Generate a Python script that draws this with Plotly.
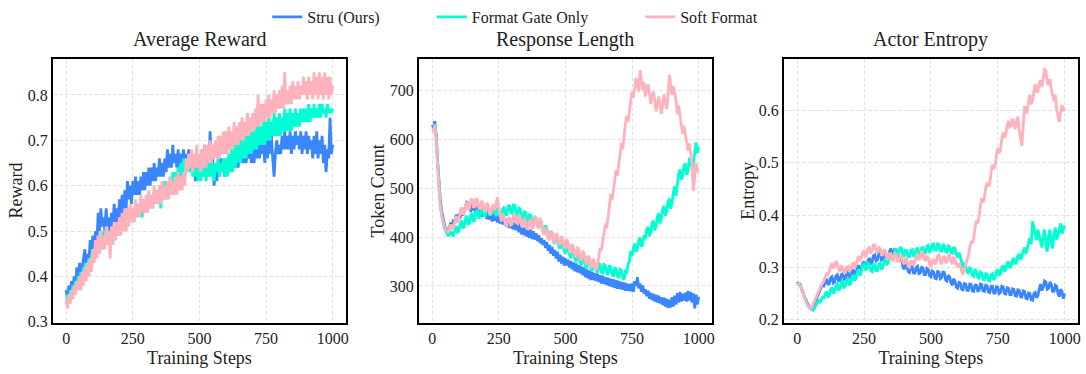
import plotly.graph_objects as go

steps = list(range(0, 1001, 5))

series_names = ["Stru (Ours)", "Format Gate Only", "Soft Format"]
series_colors = ["#3A86FF", "#00FFD2", "#FFB1BC"]
panel_titles = ["Average Reward", "Response Length", "Actor Entropy"]
y_titles = ["Reward", "Token Count", "Entropy"]
x_title = "Training Steps"
x_ticks = [0, 250, 500, 750, 1000]
y_ticks = [[0.3, 0.4, 0.5, 0.6, 0.7, 0.8],
           [300, 400, 500, 600, 700],
           [0.2, 0.3, 0.4, 0.5, 0.6]]
y_tick_text = [["0.3", "0.4", "0.5", "0.6", "0.7", "0.8"],
               ["300", "400", "500", "600", "700"],
               ["0.2", "0.3", "0.4", "0.5", "0.6"]]

# ---------------- Average Reward (every 5 steps) ----------------
stru_reward = [
    0.37, 0.35, 0.38, 0.36, 0.39, 0.37, 0.40, 0.38, 0.42, 0.39, 0.43, 0.41, 0.42, 0.44, 0.46, 0.42, 0.45, 0.43, 0.48, 0.45,
    0.49, 0.46, 0.50, 0.47, 0.54, 0.50, 0.55, 0.51, 0.53, 0.50, 0.55, 0.51, 0.53, 0.49, 0.54, 0.51, 0.56, 0.52, 0.55, 0.52,
    0.57, 0.53, 0.58, 0.54, 0.59, 0.55, 0.61, 0.57, 0.60, 0.56, 0.61, 0.58, 0.62, 0.58, 0.61, 0.58, 0.62, 0.59, 0.63, 0.59,
    0.63, 0.60, 0.64, 0.60, 0.64, 0.61, 0.65, 0.61, 0.64, 0.62, 0.66, 0.62, 0.65, 0.62, 0.66, 0.63, 0.68, 0.64, 0.67, 0.64,
    0.69, 0.65, 0.67, 0.64, 0.68, 0.64, 0.67, 0.65, 0.68, 0.64, 0.67, 0.65, 0.68, 0.65, 0.67, 0.63, 0.66, 0.61, 0.65, 0.62,
    0.66, 0.62, 0.68, 0.63, 0.69, 0.62, 0.66, 0.63, 0.72, 0.64, 0.66, 0.60, 0.64, 0.61, 0.65, 0.62, 0.66, 0.63, 0.65, 0.62,
    0.65, 0.63, 0.66, 0.63, 0.66, 0.64, 0.67, 0.64, 0.68, 0.64, 0.67, 0.65, 0.68, 0.65, 0.69, 0.65, 0.68, 0.66, 0.69, 0.65,
    0.68, 0.65, 0.69, 0.66, 0.70, 0.66, 0.69, 0.67, 0.70, 0.65, 0.71, 0.66, 0.70, 0.67, 0.71, 0.66, 0.62, 0.67, 0.70, 0.67,
    0.69, 0.67, 0.71, 0.68, 0.72, 0.68, 0.71, 0.68, 0.72, 0.67, 0.71, 0.68, 0.72, 0.69, 0.71, 0.68, 0.72, 0.67, 0.71, 0.68,
    0.72, 0.67, 0.71, 0.68, 0.70, 0.66, 0.71, 0.67, 0.72, 0.66, 0.70, 0.67, 0.71, 0.65, 0.69, 0.63, 0.68, 0.66, 0.75, 0.67,
    0.69]
gate_reward = [
    0.34, 0.36, 0.35, 0.37, 0.36, 0.38, 0.37, 0.39, 0.38, 0.40, 0.39, 0.41, 0.40, 0.42, 0.41, 0.43, 0.42, 0.44, 0.43, 0.45,
    0.46, 0.44, 0.47, 0.45, 0.49, 0.46, 0.48, 0.46, 0.50, 0.47, 0.49, 0.47, 0.50, 0.48, 0.51, 0.47, 0.51, 0.48, 0.52, 0.49,
    0.52, 0.50, 0.53, 0.50, 0.54, 0.51, 0.55, 0.52, 0.54, 0.52, 0.55, 0.52, 0.56, 0.53, 0.56, 0.54, 0.57, 0.53, 0.57, 0.54,
    0.57, 0.55, 0.58, 0.55, 0.58, 0.55, 0.59, 0.56, 0.59, 0.56, 0.60, 0.55, 0.60, 0.57, 0.61, 0.57, 0.61, 0.58, 0.62, 0.58,
    0.63, 0.59, 0.63, 0.60, 0.64, 0.60, 0.65, 0.61, 0.66, 0.62, 0.66, 0.63, 0.67, 0.63, 0.66, 0.62, 0.65, 0.62, 0.66, 0.61,
    0.64, 0.61, 0.65, 0.62, 0.66, 0.61, 0.65, 0.62, 0.66, 0.62, 0.65, 0.61, 0.65, 0.63, 0.66, 0.62, 0.65, 0.63, 0.66, 0.62,
    0.66, 0.62, 0.67, 0.63, 0.68, 0.63, 0.69, 0.64, 0.70, 0.65, 0.70, 0.65, 0.71, 0.66, 0.72, 0.66, 0.71, 0.67, 0.72, 0.67,
    0.72, 0.68, 0.73, 0.68, 0.74, 0.69, 0.73, 0.69, 0.75, 0.69, 0.74, 0.70, 0.75, 0.70, 0.74, 0.71, 0.76, 0.71, 0.75, 0.71,
    0.76, 0.71, 0.75, 0.72, 0.77, 0.72, 0.76, 0.72, 0.77, 0.72, 0.76, 0.73, 0.77, 0.73, 0.76, 0.73, 0.77, 0.74, 0.77, 0.74,
    0.77, 0.74, 0.78, 0.74, 0.77, 0.75, 0.78, 0.75, 0.77, 0.75, 0.78, 0.75, 0.78, 0.76, 0.77, 0.75, 0.78, 0.76, 0.77, 0.76,
    0.77]
soft_reward = [
    0.35, 0.33, 0.36, 0.34, 0.37, 0.35, 0.38, 0.36, 0.39, 0.37, 0.40, 0.37, 0.41, 0.38, 0.42, 0.39, 0.43, 0.40, 0.44, 0.41,
    0.46, 0.43, 0.48, 0.44, 0.49, 0.45, 0.50, 0.46, 0.49, 0.46, 0.51, 0.47, 0.50, 0.44, 0.51, 0.47, 0.52, 0.48, 0.52, 0.49,
    0.53, 0.49, 0.54, 0.50, 0.55, 0.50, 0.55, 0.51, 0.56, 0.52, 0.55, 0.52, 0.57, 0.53, 0.56, 0.53, 0.58, 0.54, 0.57, 0.54,
    0.58, 0.54, 0.59, 0.55, 0.58, 0.55, 0.60, 0.56, 0.59, 0.56, 0.60, 0.56, 0.61, 0.57, 0.60, 0.57, 0.61, 0.57, 0.62, 0.58,
    0.61, 0.58, 0.62, 0.58, 0.63, 0.59, 0.62, 0.59, 0.63, 0.60, 0.66, 0.63, 0.67, 0.64, 0.68, 0.63, 0.67, 0.64, 0.69, 0.64,
    0.67, 0.63, 0.68, 0.64, 0.69, 0.64, 0.69, 0.65, 0.70, 0.65, 0.69, 0.66, 0.70, 0.66, 0.71, 0.66, 0.71, 0.67, 0.72, 0.67,
    0.72, 0.67, 0.73, 0.68, 0.72, 0.68, 0.74, 0.69, 0.73, 0.69, 0.74, 0.70, 0.75, 0.70, 0.74, 0.71, 0.76, 0.71, 0.75, 0.72,
    0.76, 0.72, 0.77, 0.73, 0.80, 0.73, 0.78, 0.74, 0.78, 0.74, 0.79, 0.75, 0.80, 0.75, 0.79, 0.76, 0.81, 0.76, 0.80, 0.77,
    0.81, 0.77, 0.82, 0.77, 0.85, 0.78, 0.81, 0.78, 0.82, 0.78, 0.83, 0.79, 0.82, 0.79, 0.83, 0.79, 0.82, 0.80, 0.84, 0.80,
    0.83, 0.79, 0.84, 0.80, 0.83, 0.79, 0.85, 0.80, 0.84, 0.79, 0.85, 0.80, 0.84, 0.79, 0.85, 0.80, 0.84, 0.79, 0.84, 0.80,
    0.82]

# ---------------- Response Length (every 5 steps) ----------------
stru_len = [
    630, 625, 638, 610, 560, 515, 480, 455, 440, 428, 420, 416, 413, 420, 430, 422, 436, 428, 446, 436,
    448, 438, 458, 444, 452, 462, 474, 458, 466, 452, 470, 455, 460, 446, 464, 448, 458, 442, 455, 444,
    452, 437, 451, 436, 448, 432, 450, 434, 444, 430, 446, 428, 441, 426, 440, 424, 437, 420, 436, 418,
    431, 416, 430, 414, 427, 410, 428, 406, 421, 404, 420, 401, 417, 398, 416, 396, 412, 395, 408, 392,
    404, 388, 398, 384, 394, 378, 390, 372, 384, 366, 380, 362, 374, 356, 370, 350, 364, 346, 360, 342,
    357, 342, 354, 338, 351, 334, 348, 330, 346, 328, 343, 326, 340, 322, 338, 318, 334, 315, 332, 312,
    329, 312, 326, 310, 325, 308, 322, 305, 321, 304, 318, 302, 317, 300, 315, 298, 314, 296, 312, 294,
    310, 294, 308, 292, 307, 290, 305, 290, 304, 289, 305, 288, 310, 300, 318, 295, 305, 288, 301, 284,
    293, 279, 290, 274, 286, 271, 284, 268, 282, 266, 280, 264, 277, 261, 276, 258, 274, 255, 272, 256,
    277, 258, 280, 262, 285, 266, 288, 268, 284, 270, 286, 268, 290, 270, 288, 266, 285, 254, 282, 262,
    278]
gate_len = [
    622, 620, 632, 605, 555, 510, 470, 448, 430, 420, 415, 410, 402, 408, 412, 404, 403, 414, 423, 410,
    412, 426, 434, 418, 421, 438, 444, 426, 429, 446, 450, 432, 435, 452, 456, 438, 441, 458, 461, 444,
    444, 460, 463, 446, 446, 462, 464, 448, 443, 458, 459, 442, 442, 458, 462, 446, 446, 463, 466, 450,
    449, 466, 465, 448, 443, 460, 458, 442, 436, 452, 451, 434, 429, 446, 445, 428, 423, 441, 439, 422,
    419, 434, 431, 414, 407, 424, 419, 402, 396, 412, 409, 392, 386, 402, 399, 382, 376, 392, 389, 372,
    366, 382, 379, 364, 357, 374, 371, 356, 349, 366, 364, 348, 343, 360, 357, 342, 336, 354, 351, 336,
    331, 350, 347, 332, 327, 346, 344, 328, 325, 344, 342, 326, 323, 342, 339, 324, 319, 338, 335, 320,
    316, 334, 332, 316, 313, 330, 328, 345, 350, 372, 361, 378, 387, 370, 376, 394, 399, 380, 386, 404,
    396, 416, 421, 402, 409, 428, 434, 414, 423, 442, 449, 428, 439, 458, 464, 444, 453, 472, 479, 458,
    471, 492, 504, 485, 506, 530, 539, 518, 526, 548, 549, 528, 536, 560, 559, 540, 551, 578, 594, 572,
    585]
soft_len = [
    620, 618, 630, 600, 550, 505, 465, 445, 430, 422, 418, 414, 409, 418, 426, 416, 420, 432, 443, 430,
    437, 452, 461, 446, 450, 466, 472, 456, 459, 476, 479, 462, 462, 480, 477, 460, 457, 474, 471, 455,
    452, 470, 467, 450, 447, 462, 467, 456, 474, 482, 459, 446, 432, 448, 441, 426, 422, 438, 441, 425,
    427, 444, 447, 430, 428, 446, 441, 424, 420, 438, 434, 418, 417, 434, 435, 418, 420, 442, 439, 422,
    420, 440, 429, 412, 404, 420, 414, 398, 394, 412, 409, 392, 390, 408, 404, 388, 384, 402, 397, 380,
    377, 396, 389, 372, 367, 386, 379, 362, 360, 380, 374, 356, 354, 372, 367, 350, 344, 362, 357, 340,
    337, 356, 347, 332, 342, 360, 378, 372, 388, 410, 428, 418, 438, 462, 488, 476, 498, 520, 538, 526,
    553, 578, 593, 580, 608, 632, 648, 636, 658, 684, 698, 686, 707, 726, 713, 698, 742, 722, 702, 718,
    688, 706, 713, 694, 673, 690, 698, 680, 658, 676, 688, 668, 653, 672, 693, 676, 663, 690, 733, 712,
    692, 710, 698, 680, 652, 670, 648, 630, 612, 628, 608, 590, 577, 592, 568, 550, 495, 520, 552, 535,
    533]

# ---------------- Actor Entropy (every 5 steps) ----------------
stru_ent = [
    0.272, 0.268, 0.268, 0.262, 0.255, 0.246, 0.240, 0.233, 0.228, 0.224, 0.222, 0.220, 0.226, 0.230, 0.236, 0.244, 0.250, 0.256, 0.260, 0.268,
    0.265, 0.274, 0.278, 0.268, 0.268, 0.280, 0.282, 0.270, 0.272, 0.284, 0.286, 0.274, 0.275, 0.286, 0.288, 0.277, 0.278, 0.289, 0.291, 0.280,
    0.281, 0.292, 0.296, 0.284, 0.288, 0.300, 0.304, 0.292, 0.296, 0.308, 0.311, 0.299, 0.302, 0.314, 0.318, 0.306, 0.310, 0.322, 0.324, 0.312,
    0.314, 0.326, 0.328, 0.314, 0.316, 0.324, 0.326, 0.314, 0.319, 0.330, 0.336, 0.328, 0.326, 0.336, 0.331, 0.320, 0.312, 0.322, 0.316, 0.302,
    0.296, 0.306, 0.304, 0.292, 0.290, 0.302, 0.301, 0.289, 0.289, 0.300, 0.302, 0.288, 0.289, 0.300, 0.299, 0.286, 0.286, 0.298, 0.296, 0.284,
    0.282, 0.293, 0.291, 0.279, 0.278, 0.292, 0.291, 0.278, 0.280, 0.291, 0.290, 0.276, 0.274, 0.285, 0.282, 0.270, 0.266, 0.278, 0.274, 0.262,
    0.260, 0.271, 0.270, 0.258, 0.257, 0.269, 0.268, 0.256, 0.256, 0.268, 0.267, 0.255, 0.254, 0.266, 0.266, 0.255, 0.256, 0.268, 0.267, 0.255,
    0.254, 0.266, 0.265, 0.253, 0.252, 0.264, 0.264, 0.251, 0.251, 0.263, 0.262, 0.250, 0.252, 0.264, 0.263, 0.250, 0.249, 0.261, 0.260, 0.248,
    0.248, 0.259, 0.258, 0.246, 0.245, 0.257, 0.256, 0.244, 0.243, 0.255, 0.254, 0.241, 0.240, 0.251, 0.250, 0.238, 0.237, 0.250, 0.252, 0.242,
    0.246, 0.258, 0.268, 0.256, 0.262, 0.274, 0.272, 0.258, 0.260, 0.272, 0.268, 0.254, 0.254, 0.266, 0.264, 0.250, 0.244, 0.258, 0.254, 0.240,
    0.250]
gate_ent = [
    0.268, 0.267, 0.266, 0.260, 0.252, 0.245, 0.238, 0.232, 0.226, 0.223, 0.221, 0.219, 0.218, 0.222, 0.226, 0.230, 0.236, 0.232, 0.238, 0.244,
    0.240, 0.250, 0.254, 0.244, 0.246, 0.258, 0.262, 0.250, 0.254, 0.266, 0.268, 0.256, 0.259, 0.271, 0.274, 0.262, 0.264, 0.276, 0.278, 0.266,
    0.269, 0.281, 0.286, 0.274, 0.279, 0.292, 0.296, 0.284, 0.292, 0.304, 0.308, 0.296, 0.297, 0.308, 0.306, 0.294, 0.292, 0.304, 0.306, 0.294,
    0.294, 0.306, 0.308, 0.296, 0.299, 0.311, 0.316, 0.304, 0.309, 0.321, 0.326, 0.314, 0.319, 0.331, 0.336, 0.324, 0.327, 0.339, 0.336, 0.324,
    0.321, 0.333, 0.332, 0.320, 0.321, 0.333, 0.334, 0.322, 0.323, 0.335, 0.336, 0.324, 0.325, 0.337, 0.338, 0.326, 0.328, 0.340, 0.342, 0.330,
    0.332, 0.344, 0.345, 0.333, 0.333, 0.345, 0.344, 0.332, 0.331, 0.343, 0.342, 0.330, 0.329, 0.341, 0.340, 0.328, 0.327, 0.339, 0.336, 0.324,
    0.319, 0.328, 0.321, 0.309, 0.299, 0.309, 0.304, 0.292, 0.288, 0.299, 0.297, 0.285, 0.283, 0.295, 0.293, 0.281, 0.279, 0.291, 0.289, 0.277,
    0.276, 0.288, 0.287, 0.275, 0.274, 0.286, 0.288, 0.276, 0.280, 0.292, 0.296, 0.284, 0.288, 0.300, 0.304, 0.292, 0.296, 0.308, 0.311, 0.299,
    0.302, 0.314, 0.318, 0.306, 0.310, 0.322, 0.326, 0.314, 0.320, 0.332, 0.338, 0.326, 0.334, 0.348, 0.356, 0.344, 0.388, 0.376, 0.364, 0.352,
    0.372, 0.360, 0.350, 0.338, 0.360, 0.372, 0.342, 0.330, 0.360, 0.372, 0.347, 0.336, 0.364, 0.376, 0.353, 0.360, 0.372, 0.384, 0.364, 0.372,
    0.380]
soft_ent = [
    0.270, 0.268, 0.266, 0.260, 0.252, 0.244, 0.236, 0.231, 0.226, 0.222, 0.220, 0.224, 0.230, 0.236, 0.244, 0.250, 0.256, 0.262, 0.266, 0.270,
    0.274, 0.282, 0.288, 0.286, 0.292, 0.302, 0.308, 0.298, 0.302, 0.312, 0.306, 0.296, 0.292, 0.302, 0.300, 0.290, 0.290, 0.300, 0.302, 0.292,
    0.296, 0.306, 0.308, 0.298, 0.306, 0.318, 0.322, 0.312, 0.318, 0.328, 0.332, 0.320, 0.324, 0.336, 0.338, 0.326, 0.332, 0.343, 0.343, 0.332,
    0.328, 0.338, 0.336, 0.324, 0.324, 0.334, 0.330, 0.318, 0.314, 0.326, 0.326, 0.314, 0.314, 0.326, 0.324, 0.312, 0.312, 0.324, 0.322, 0.310,
    0.306, 0.318, 0.314, 0.302, 0.300, 0.312, 0.312, 0.304, 0.310, 0.322, 0.324, 0.314, 0.318, 0.330, 0.328, 0.316, 0.312, 0.322, 0.318, 0.306,
    0.300, 0.312, 0.316, 0.306, 0.310, 0.322, 0.324, 0.312, 0.306, 0.318, 0.322, 0.310, 0.310, 0.322, 0.324, 0.312, 0.306, 0.318, 0.316, 0.304,
    0.302, 0.308, 0.300, 0.290, 0.286, 0.296, 0.308, 0.314, 0.322, 0.340, 0.350, 0.346, 0.356, 0.376, 0.390, 0.384, 0.396, 0.418, 0.432, 0.424,
    0.432, 0.452, 0.462, 0.454, 0.460, 0.482, 0.496, 0.488, 0.494, 0.514, 0.528, 0.518, 0.524, 0.546, 0.558, 0.548, 0.554, 0.572, 0.580, 0.568,
    0.570, 0.584, 0.576, 0.564, 0.580, 0.588, 0.562, 0.548, 0.532, 0.570, 0.608, 0.596, 0.596, 0.618, 0.630, 0.614, 0.616, 0.636, 0.650, 0.636,
    0.636, 0.652, 0.658, 0.644, 0.665, 0.678, 0.676, 0.654, 0.648, 0.660, 0.640, 0.628, 0.618, 0.630, 0.602, 0.590, 0.578, 0.596, 0.610, 0.598,
    0.605]

panels = [
    [stru_reward, gate_reward, soft_reward],
    [stru_len, gate_len, soft_len],
    [stru_ent, gate_ent, soft_ent],
]

W, H = 1086, 374
FONT = "Liberation Serif, Times New Roman, serif"
TXT = "#222222"

boxes_px = [(53, 347), (420, 714), (786, 1081)]
top_px, bottom_px = 56, 329
y_ranges = [[0.2985, 0.879], [225, 765], [0.1945, 0.698]]
ytitle_x_px = [15.7, 378.7, 750]

fig = go.Figure()
legend_keys = ["legend", "legend2", "legend3"]

for p, vals in enumerate(panels):
    ax = "" if p == 0 else str(p + 1)
    for s, v in enumerate(vals):
        n = min(len(steps), len(v))
        fig.add_trace(go.Scatter(
            x=steps[:n], y=v[:n], mode="lines",
            name=series_names[s],
            line=dict(color=series_colors[s], width=2.8),
            xaxis="x" + ax, yaxis="y" + ax,
            showlegend=(p == 0),
            legend=legend_keys[s],
        ))

layout = dict(
    width=W, height=H,
    margin=dict(l=0, r=0, t=0, b=0),
    paper_bgcolor="white", plot_bgcolor="white",
    font=dict(family=FONT, color=TXT, size=16),
)

for p in range(3):
    ax = "" if p == 0 else str(p + 1)
    l, r = boxes_px[p]
    layout["xaxis" + ax] = dict(
        domain=[l / W, r / W], range=[-50, 1050],
        anchor="y" + ax,
        tickvals=x_ticks, ticktext=[str(t) for t in x_ticks],
        tickfont=dict(size=16, family=FONT, color=TXT),
        showline=True, mirror=True, linecolor="black", linewidth=2,
        showgrid=True, gridcolor="#e3e3e3", gridwidth=1, griddash="4px,2px",
        zeroline=False, ticks="", ticklabelstandoff=0,
        title=dict(text=x_title, font=dict(size=18, family=FONT, color=TXT), standoff=6),
    )
    layout["yaxis" + ax] = dict(
        domain=[1 - bottom_px / H, 1 - top_px / H], range=y_ranges[p],
        anchor="x" + ax,
        tickvals=y_ticks[p], ticktext=y_tick_text[p],
        tickfont=dict(size=16, family=FONT, color=TXT),
        showline=True, mirror=True, linecolor="black", linewidth=2,
        showgrid=True, gridcolor="#e3e3e3", gridwidth=1, griddash="4px,2px",
        zeroline=False, ticks="", ticklabelstandoff=0,
    )

annotations = []
for p in range(3):
    l, r = boxes_px[p]
    annotations.append(dict(
        text=panel_titles[p], x=(l + r) / 2 / W, y=1 - 36 / H,
        xref="paper", yref="paper", xanchor="center", yanchor="middle",
        showarrow=False, font=dict(size=20, family=FONT, color=TXT),
    ))
    annotations.append(dict(
        text=y_titles[p], x=ytitle_x_px[p] / W, y=1 - (top_px + bottom_px) / 2 / H,
        xref="paper", yref="paper", xanchor="center", yanchor="middle",
        textangle=-90, showarrow=False, font=dict(size=18, family=FONT, color=TXT),
    ))
layout["annotations"] = annotations

legend_x_px = [268, 433, 642]
for s, key in enumerate(legend_keys):
    layout[key] = dict(
        x=legend_x_px[s] / W, y=1 - 12 / H, xanchor="left", yanchor="middle",
        orientation="h", bgcolor="rgba(0,0,0,0)",
        font=dict(size=16, family=FONT, color=TXT),
    )

fig.update_layout(**layout)
fig.write_html("out.html", config={"displayModeBar": False},
               post_script="document.body.style.margin='0';")
